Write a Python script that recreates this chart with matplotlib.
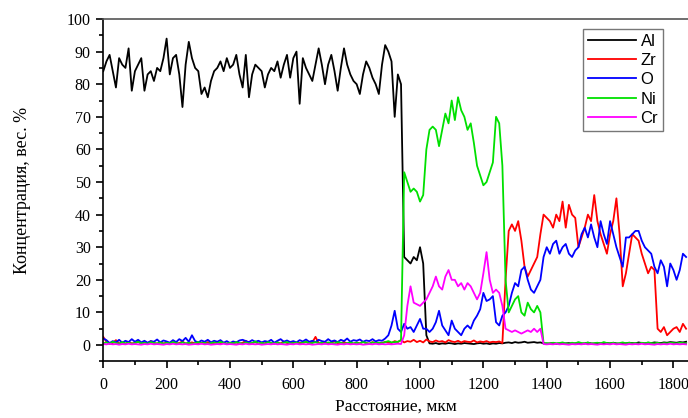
import numpy as np
import matplotlib
matplotlib.use('Agg')
import matplotlib.pyplot as plt
from matplotlib.ticker import MultipleLocator

# distance grid, mkm (step 10)
dist = np.arange(0, 1850, 10)

al = [84, 87, 89, 84, 79, 88, 86, 85, 91, 78,
      84, 86, 88, 78, 83, 84, 81, 85, 84, 88,
      94, 83, 88, 89, 83, 73, 86, 93, 88, 85,
      84, 77, 79, 76, 81, 84, 85, 87, 84, 88,
      85, 86, 89, 83, 79, 89, 76, 83, 86, 85,
      84, 79, 83, 85, 84, 87, 82, 86, 89, 82,
      88, 90, 74, 88, 85, 83, 81, 86, 91, 86,
      80, 86, 89, 84, 78, 85, 91, 86, 83, 81,
      80, 77, 83, 87, 85, 82, 80, 77, 86, 92,
      90, 87, 70, 83, 80, 27, 26, 25, 27, 26,
      30, 25, 3, 0.5, 0.4, 0.6, 0.3, 0.5, 0.4, 0.6,
      0.5, 0.3, 0.5, 0.4, 0.6, 0.5, 0.4, 0.3, 0.5, 0.6,
      0.4, 0.5, 0.3, 0.5, 0.4, 0.6, 0.5, 0.7, 0.8, 0.6,
      0.9, 0.7, 0.8, 1.0, 0.7, 0.8, 0.9, 0.7, 0.8, 0.5,
      0.4, 0.5, 0.6, 0.4, 0.5, 0.3, 0.5, 0.6, 0.4, 0.5,
      0.6, 0.4, 0.5, 0.7, 0.5, 0.4, 0.6, 0.5, 0.4, 0.6,
      0.5, 0.7, 0.5, 0.4, 0.6, 0.5, 0.7, 0.6, 0.5, 0.8,
      0.6, 0.5, 0.7, 0.6, 0.8, 0.7, 0.6, 0.8, 0.7, 0.9,
      0.8, 0.7, 0.9, 0.8, 1.0]

zr = [2.5, 1.0, 0.4, 0.6, 1.5, 0.5, 0.8, 0.4, 0.9, 0.5,
      0.6, 1.0, 0.4, 0.7, 0.5, 1.2, 0.6, 0.4, 0.8, 0.5,
      0.7, 0.4, 0.9, 0.5, 0.6, 1.1, 0.4, 0.6, 0.8, 0.5,
      0.4, 0.7, 0.5, 0.9, 0.4, 0.6, 1.0, 0.5, 0.7, 0.4,
      0.6, 0.5, 0.8, 0.4, 0.7, 1.3, 0.5, 0.6, 0.9, 0.4,
      0.7, 0.5, 1.0, 0.6, 0.4, 0.8, 0.5, 1.1, 0.6, 0.4,
      0.9, 0.5, 0.7, 0.6, 1.0, 0.5, 0.8, 2.5, 0.6, 0.5,
      0.9, 0.4, 0.7, 1.2, 0.5, 0.6, 0.9, 0.5, 0.7, 0.4,
      0.8, 0.5, 1.0, 0.6, 0.4, 0.9, 0.5, 0.7, 0.6, 1.0,
      0.8, 0.6, 1.2, 0.9, 1.5, 0.8, 1.2, 1.0, 1.6, 0.9,
      1.3, 0.8, 1.7, 1.1, 0.9, 1.4, 1.0, 1.2, 0.8, 1.5,
      1.1, 0.9, 1.3, 0.8, 1.2, 1.0, 0.9, 1.4, 0.8, 1.1,
      0.9, 1.2, 0.8, 1.0, 0.9, 1.1, 0.6, 20, 35, 37,
      35, 38, 32, 24, 21, 23, 25, 27, 34, 40,
      39, 38, 36, 40, 38, 44, 36, 43, 40, 39,
      30, 33, 36, 40, 38, 46, 38, 34, 31, 28,
      34, 38, 45, 34, 18, 22, 28, 34, 33, 32,
      28, 25, 22, 24, 23, 5, 4, 5.5, 3, 4,
      5, 5.5, 4, 6.5, 5]

ox = [2.0, 1.5, 0.6, 1.2, 0.8, 1.6, 0.7, 1.3, 0.9, 1.8,
      1.0, 1.6, 0.8, 1.3, 0.7, 1.2, 1.0, 1.7, 0.8, 1.4,
      1.1, 0.7, 1.5, 0.9, 1.8, 1.2, 2.2, 1.0, 3.0, 1.2,
      0.8, 1.4, 1.0, 1.6, 0.8, 1.3, 1.0, 1.5, 0.7, 1.2,
      0.6, 1.1, 0.8, 1.4, 1.6, 1.2, 0.9, 1.5, 1.0, 1.3,
      0.8, 1.2, 1.0, 1.6, 0.7, 1.3, 1.8, 1.0, 1.4, 0.9,
      1.2, 0.8, 1.5, 1.1, 1.7, 1.0, 1.3, 0.9, 1.6, 1.2,
      1.0, 1.8, 1.1, 1.4, 0.9, 1.6, 1.2, 2.0, 1.0, 1.5,
      1.3, 1.7, 1.0, 1.4, 1.2, 1.8, 1.1, 1.5, 1.3, 2.0,
      3.0, 6, 10.5, 5, 4, 6.5, 5, 5.5, 4, 6,
      8, 5, 5, 4, 5, 7, 10.5, 6, 4.5, 3,
      7.5, 5, 4, 3, 5, 6, 5, 7.5, 9, 11,
      16, 13.5, 14, 15, 7, 6, 9, 10, 12, 16,
      19, 18, 23, 24, 20, 17, 16, 18, 20, 27,
      30, 28, 31, 32, 28, 30, 31, 28, 27, 29,
      30, 34, 36, 33, 37, 33, 30, 38, 34, 31,
      38, 34, 30, 27, 24, 33, 33, 34, 35, 35,
      32, 30, 29, 28, 24, 22, 26, 24, 18, 25,
      23, 20, 23, 28, 27]

ni = [0.5, 0.8, 0.4, 1.0, 0.6, 0.4, 0.9, 0.5, 0.7, 0.4,
      0.6, 1.0, 0.5, 0.7, 0.4, 0.9, 0.6, 0.5, 0.8, 0.4,
      0.7, 0.5, 0.9, 0.6, 0.4, 0.8, 0.5, 0.7, 0.4, 0.6,
      0.9, 0.5, 0.7, 0.4, 0.6, 0.8, 0.5, 1.0, 0.6, 0.4,
      0.7, 0.5, 0.9, 0.6, 0.4, 0.8, 0.5, 0.6, 1.1, 0.5,
      0.7, 0.4, 0.9, 0.6, 0.5, 0.8, 0.4, 0.7, 0.9, 0.5,
      0.6, 0.8, 0.4, 0.7, 1.0, 0.5, 0.6, 0.9, 0.5, 0.7,
      0.4, 0.8, 0.6, 0.5, 0.9, 0.7, 0.4, 0.6, 0.8, 0.5,
      0.7, 0.5, 0.9, 0.6, 0.4, 0.8, 0.6, 0.7, 0.5, 0.9,
      1.2, 0.8, 0.9, 1.0, 1.5, 53, 50, 47, 48, 47,
      44, 46, 60, 66, 67, 66, 61, 66, 71, 68,
      75, 69, 76, 72, 70, 66, 68, 62, 55, 52,
      49, 50, 53, 56, 70, 68, 55, 20, 10, 12,
      14, 15, 10, 9, 13, 11, 10, 12, 10, 0.5,
      0.6, 0.4, 0.7, 0.5, 0.6, 0.8, 0.5, 0.4, 0.7, 0.5,
      0.9, 0.6, 0.5, 0.8, 0.4, 0.6, 0.7, 0.5, 0.9, 0.6,
      0.5, 0.7, 0.4, 0.6, 0.8, 0.5, 0.7, 0.5, 0.6, 0.4,
      0.7, 0.5, 0.8, 0.6, 0.5, 0.7, 0.4, 0.6, 0.5, 0.7,
      0.6, 0.5, 0.7, 0.6, 0.5]

cr = [0.3, 0.2, 0.4, 0.2, 0.3, 0.1, 0.3, 0.2, 0.4, 0.2,
      0.3, 0.2, 0.1, 0.3, 0.2, 0.4, 0.2, 0.3, 0.2, 0.1,
      0.3, 0.2, 0.4, 0.2, 0.3, 0.2, 0.3, 0.1, 0.2, 0.3,
      0.2, 0.4, 0.2, 0.3, 0.1, 0.2, 0.3, 0.2, 0.4, 0.2,
      0.3, 0.2, 0.1, 0.3, 0.2, 0.4, 0.2, 0.3, 0.2, 0.3,
      0.1, 0.2, 0.3, 0.2, 0.4, 0.2, 0.3, 0.2, 0.1, 0.3,
      0.2, 0.4, 0.2, 0.3, 0.2, 0.3, 0.1, 0.2, 0.3, 0.2,
      0.4, 0.2, 0.3, 0.2, 0.1, 0.3, 0.2, 0.4, 0.2, 0.3,
      0.2, 0.3, 0.1, 0.2, 0.3, 0.2, 0.4, 0.2, 0.3, 0.2,
      0.3, 0.2, 0.3, 0.4, 0.3, 3, 12, 18, 13, 12.5,
      12, 13, 14, 16, 18, 21, 18, 17, 21, 23,
      20, 20, 18, 19, 17, 19, 18, 16, 14, 16,
      22, 28.5, 20, 16, 17, 16, 12, 5, 4.5, 4,
      4.5, 4, 3.5, 4, 4.5, 4, 5, 4, 5, 0.3,
      0.2, 0.3, 0.2, 0.4, 0.2, 0.3, 0.2, 0.1, 0.3, 0.2,
      0.3, 0.2, 0.4, 0.2, 0.3, 0.2, 0.1, 0.3, 0.2, 0.3,
      0.2, 0.4, 0.2, 0.3, 0.2, 0.1, 0.3, 0.2, 0.3, 0.2,
      0.4, 0.2, 0.3, 0.2, 0.1, 0.3, 0.2, 0.3, 0.2, 0.4,
      0.2, 0.3, 0.2, 0.3, 0.2]

series = [('Al', al, '#000000'), ('Zr', zr, '#ff0000'), ('O', ox, '#0000ff'),
          ('Ni', ni, '#00e000'), ('Cr', cr, '#ff00ff')]

fig = plt.figure(figsize=(6.88, 4.18), dpi=100)
ax = fig.add_axes([0.1501, 0.1356, 0.8499, 0.8189])

for name, vals, col in series:
    ax.plot(dist, vals, color=col, lw=1.3, label=name)

ax.set_xlim(0, 1846)
ax.set_ylim(-5, 100)
ax.xaxis.set_major_locator(MultipleLocator(200))
ax.xaxis.set_minor_locator(MultipleLocator(100))
ax.yaxis.set_major_locator(MultipleLocator(10))
ax.yaxis.set_minor_locator(MultipleLocator(5))
ax.tick_params(which='both', direction='out', width=1.2, labelsize=11.5,
               top=False, right=False)
ax.tick_params(which='major', length=5)
ax.tick_params(axis='x', which='major', pad=6)
ax.tick_params(axis='y', which='major', pad=4)
ax.tick_params(which='minor', length=3)
for lab in ax.get_xticklabels() + ax.get_yticklabels():
    lab.set_family('Liberation Serif')
for sp in ax.spines.values():
    sp.set_linewidth(1.2)
ax.spines['top'].set_color('#555555')
ax.spines['right'].set_visible(False)

ax.set_xlabel('Расстояние, мкм', family='Liberation Serif', fontsize=12.5,
              labelpad=4)
ax.set_ylabel('Концентрация, вес. %', family='Liberation Serif', fontsize=13,
              labelpad=26)

leg = ax.legend(loc='upper left', bbox_to_anchor=(583 / 688, 1 - 29 / 418),
                bbox_transform=fig.transFigure, frameon=True, fancybox=False,
                prop={'family': 'Liberation Sans', 'size': 12},
                handlelength=2.9, handletextpad=0.25, labelspacing=0.25,
                borderpad=0.3, borderaxespad=0)
leg.get_frame().set_edgecolor('#555555')
leg.get_frame().set_linewidth(1.0)

fig.savefig('out.png', dpi=100)
